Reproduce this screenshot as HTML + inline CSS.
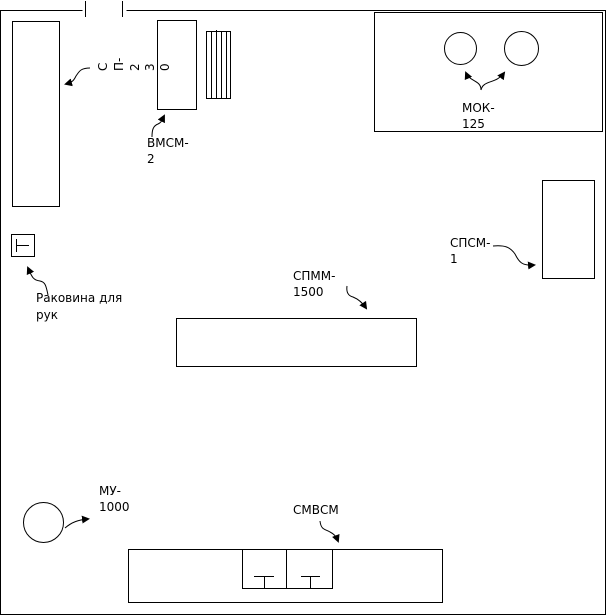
<!DOCTYPE html>
<html><head><meta charset="utf-8"><style>
body{margin:0;background:#fff}
svg{display:block}
text{font-family:"DejaVu Sans","Liberation Sans",sans-serif;font-size:12px;fill:#000}
</style></head><body>
<svg width="607" height="616" viewBox="0 0 607 616" xmlns="http://www.w3.org/2000/svg">
<defs><marker id="a" markerWidth="8" markerHeight="8" refX="6" refY="4" orient="auto" markerUnits="userSpaceOnUse"><path d="M0,0 L8,4 L0,8 z" fill="#000"/></marker></defs>
<g fill="none" stroke="#000" stroke-width="1">
<path d="M82.5,10.5 H0.5 V614.5 H605.5 V10.5 H126.5"/>
<path d="M85.5,1 V17 M122.5,1 V17"/>
<rect x="12.5" y="21.5" width="47" height="185"/>
<rect x="157.5" y="20.5" width="39" height="89"/>
<rect x="206.5" y="31.5" width="24" height="67"/>
<path d="M211.5,31 V98 M216.5,30 V98 M221.5,31 V98 M226.5,31 V98"/>
<rect x="374.5" y="12.5" width="228" height="119"/>
<circle cx="460.5" cy="48.5" r="16"/>
<circle cx="521.5" cy="48.5" r="17"/>
<rect x="542.5" y="180.5" width="52" height="98"/>
<rect x="176.5" y="318.5" width="240" height="48"/>
<rect x="11.5" y="234.5" width="23" height="22"/>
<path d="M16.5,239 V252 M17,245.5 H29"/>
<circle cx="43.5" cy="522.5" r="20"/>
<rect x="128.5" y="549.5" width="314" height="53"/>
<path d="M242.5,549 V588.5 H332.5 V549 M286.5,549 V588 M254,576.5 H274 M264.5,576 V588 M301,576.5 H320 M310.5,576 V588"/>
<path d="M90,68 C80,68 79,72 76,76 C74,80 73,82 66,84" marker-end="url(#a)"/>
<path d="M152,137 C152,130 153,126 158,124 C162,122 162,120 164,116" marker-end="url(#a)"/>
<path d="M48,295 C46,285 45,282 40,281 C33,280 32,277 28,268" marker-end="url(#a)"/>
<path d="M481,90 C481,80 470,82 466,73" marker-end="url(#a)"/>
<path d="M481,90 C483,80 496,84 504,73" marker-end="url(#a)"/>
<path d="M493,246 C505,245 510,247 515,254 C519,262 522,266 534,265" marker-end="url(#a)"/>
<path d="M347,286 C346,293 349,296 353,297 C358,299 362,302 366,308" marker-end="url(#a)"/>
<path d="M65,528 C72,522 78,520 88,519" marker-end="url(#a)"/>
<path d="M320,521 C321,530 325,529 330,532 C334,534 336,536 338,541" marker-end="url(#a)"/>
</g>
<g>
<text transform="translate(107,71) rotate(-90)">С</text>
<text transform="translate(123,71) rotate(-90)">П-</text>
<text transform="translate(139,71) rotate(-90)">2</text>
<text transform="translate(154,71) rotate(-90)">3</text>
<text transform="translate(169,71) rotate(-90)">0</text>
</g>
<text x="147" y="147">ВМСМ-</text>
<text x="147" y="163">2</text>
<text x="462" y="112">МОК-</text>
<text x="462" y="128">125</text>
<text x="450" y="247">СПСМ-</text>
<text x="450" y="263">1</text>
<text x="293" y="280">СПММ-</text>
<text x="293" y="296">1500</text>
<text x="36" y="302">Раковина для</text>
<text x="36" y="319">рук</text>
<text x="99" y="495">МУ-</text>
<text x="99" y="511">1000</text>
<text x="293" y="514">СМВСМ</text>
</svg>
</body></html>
